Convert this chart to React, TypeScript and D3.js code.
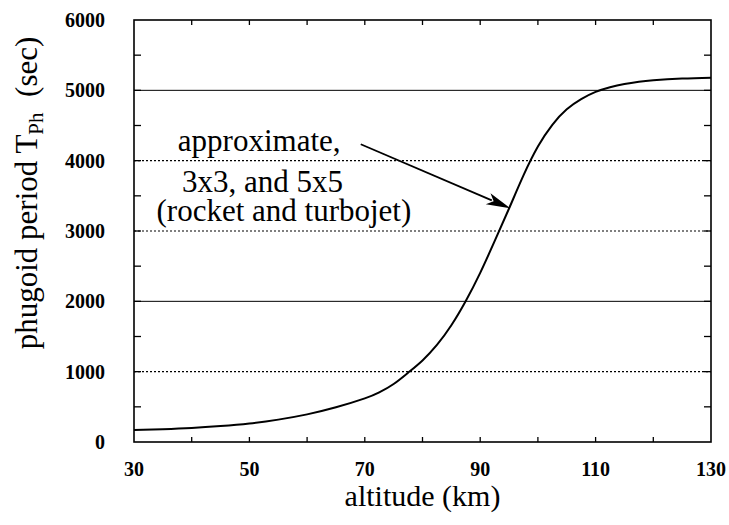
import React from "react";
import * as d3 from "d3";

const altitudes = [30, 35, 40, 45, 50, 55, 60, 65, 70, 72.5, 75, 77.5, 80, 82.5, 85, 87.5, 90, 92.5, 95, 97.5, 100, 102.5, 105, 107.5, 110, 112.5, 115, 117.5, 120, 125, 130];
const periods = [170, 183, 200, 226, 262, 318, 393, 493, 620, 705, 825, 985, 1160, 1380, 1660, 2005, 2405, 2855, 3320, 3790, 4200, 4510, 4730, 4875, 4978, 5045, 5090, 5122, 5143, 5167, 5180];

const xTickLabels = [30, 50, 70, 90, 110, 130];
const xMinorTicks = [40, 50, 60, 70, 80, 90, 100, 110, 120];
const yTickLabels = [0, 1000, 2000, 3000, 4000, 5000, 6000];
const yMinorTicks = [500, 1000, 1500, 2000, 2500, 3000, 3500, 4000, 4500, 5000, 5500];
const solidGrid = [2000, 5000];
const dottedGrid = [1000, 3000, 4000];

const annotationLines = ["approximate,", "3x3, and 5x5", "(rocket and turbojet)"];
const annotationX = [37.6, 38.3, 33.9];
const annotationY = [4133, 3560, 3140];
const arrowFrom = [69.3, 4233];
const arrowTo = [95.2, 3324];

const W = 729, H = 525;
const M = { left: 134, right: 711, top: 20, bottom: 442 };

export default function App() {
  const x = d3.scaleLinear().domain([30, 130]).range([M.left, M.right]);
  const y = d3.scaleLinear().domain([0, 6000]).range([M.bottom, M.top]);
  const pts: [number, number][] = altitudes.map((a, i) => [a, periods[i]]);
  const line = d3.line<[number, number]>().x(d => x(d[0])).y(d => y(d[1])).curve(d3.curveNatural);

  const ax0 = x(arrowFrom[0]), ay0 = y(arrowFrom[1]);
  const ax1 = x(arrowTo[0]), ay1 = y(arrowTo[1]);
  const ang = Math.atan2(ay1 - ay0, ax1 - ax0);
  const hl = 24, hw = 6;
  const bx = ax1 - hl * Math.cos(ang), by = ay1 - hl * Math.sin(ang);
  const nx = -Math.sin(ang), ny = Math.cos(ang);
  const head = `M${ax1},${ay1} L${bx + nx * hw},${by + ny * hw} L${ax1 - (hl - 6) * Math.cos(ang)},${ay1 - (hl - 6) * Math.sin(ang)} L${bx - nx * hw},${by - ny * hw} Z`;

  const font = "'Liberation Serif', 'Times New Roman', serif";

  return (
    <svg width={W} height={H} style={{ position: "absolute", left: 0, top: 0, background: "#fff" }} fontFamily={font}>
      <rect x={0} y={0} width={W} height={H} fill="#fff" />
      {dottedGrid.map(v => (
        <line key={"d" + v} x1={M.left} x2={M.right} y1={y(v)} y2={y(v)} stroke="#000" strokeWidth={1.2} strokeDasharray="2,2" />
      ))}
      {solidGrid.map(v => (
        <line key={"s" + v} x1={M.left} x2={M.right} y1={y(v)} y2={y(v)} stroke="#000" strokeWidth={1} />
      ))}
      {yMinorTicks.map(v => (
        <g key={"yt" + v}>
          <line x1={M.left} x2={M.left + 7} y1={y(v)} y2={y(v)} stroke="#000" strokeWidth={1.3} />
          <line x1={M.right} x2={M.right - 7} y1={y(v)} y2={y(v)} stroke="#000" strokeWidth={1.3} />
        </g>
      ))}
      {xMinorTicks.map(v => (
        <g key={"xt" + v}>
          <line x1={x(v)} x2={x(v)} y1={M.bottom} y2={M.bottom - 5} stroke="#000" strokeWidth={1.3} />
          <line x1={x(v)} x2={x(v)} y1={M.top} y2={M.top + 5} stroke="#000" strokeWidth={1.3} />
        </g>
      ))}
      <rect x={M.left} y={M.top} width={M.right - M.left} height={M.bottom - M.top} fill="none" stroke="#000" strokeWidth={1.6} />
      <path d={line(pts) || ""} fill="none" stroke="#000" strokeWidth={2} />
      {yTickLabels.map(v => (
        <text key={"yl" + v} x={105} y={y(v)} dy="0.35em" textAnchor="end" fontSize={20} fontWeight="bold">{v}</text>
      ))}
      {xTickLabels.map(v => (
        <text key={"xl" + v} x={x(v)} y={476} textAnchor="middle" fontSize={20} fontWeight="bold">{v}</text>
      ))}
      <text x={(M.left + M.right) / 2} y={506} textAnchor="middle" fontSize={30}>altitude (km)</text>
      <text transform={`translate(37,193) rotate(-90)`} textAnchor="middle" fontSize={31}>
        phugoid period T<tspan fontSize={21} dy={6}>Ph</tspan><tspan dy={-6}>{"\u00a0 (sec)"}</tspan>
      </text>
      {annotationLines.map((t, i) => (
        <text key={"an" + i} x={x(annotationX[i])} y={y(annotationY[i])} fontSize={31}>{t}</text>
      ))}
      <line x1={ax0} y1={ay0} x2={bx + 4 * Math.cos(ang)} y2={by + 4 * Math.sin(ang)} stroke="#000" strokeWidth={1.8} />
      <path d={head} fill="#000" />
    </svg>
  );
}
